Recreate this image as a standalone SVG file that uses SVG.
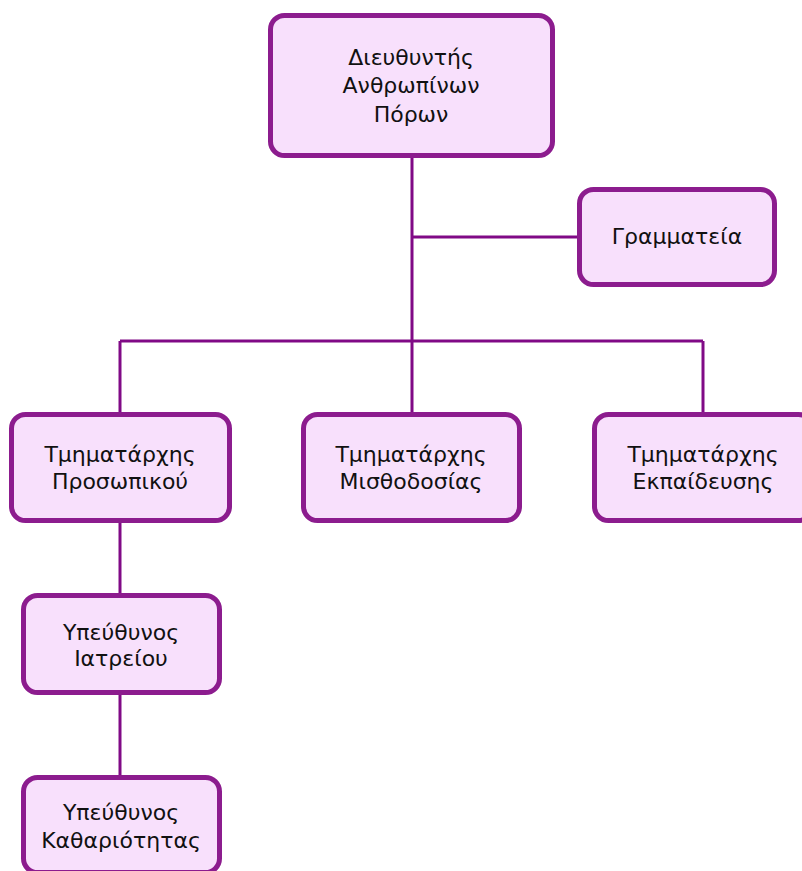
<svg xmlns="http://www.w3.org/2000/svg" width="802" height="871" viewBox="0 0 802 871">
<style>
.box{fill:#f8e0fc;stroke:#8c1c8e;stroke-width:5}
.lbl{font-family:"DejaVu Sans","Verdana",sans-serif;font-size:22px;fill:#111;text-anchor:middle}
.conn{stroke:#800a86;stroke-width:3;fill:none}
</style>
<rect width="802" height="871" fill="#ffffff"/>
<g id="connectors">
<path class="conn" d="M412 157V414"/>
<path class="conn" d="M412 237H579"/>
<path class="conn" d="M120 341H703"/>
<path class="conn" d="M120 341V414"/>
<path class="conn" d="M703 341V414"/>
<path class="conn" d="M120 522V595"/>
<path class="conn" d="M120 694V777"/>
</g>
<g id="director">
<rect class="box" x="270.5" y="15.5" width="282" height="140" rx="14"/>
<text class="lbl" x="411" y="65">Διευθυντής</text>
<text class="lbl" x="411" y="93">Ανθρωπίνων</text>
<text class="lbl" x="411" y="122">Πόρων</text>
</g>
<g id="secretariat">
<rect class="box" x="579.5" y="189.5" width="195" height="95" rx="14"/>
<text class="lbl" x="677" y="244">Γραμματεία</text>
</g>
<g id="personnel">
<rect class="box" x="11.5" y="414.5" width="218" height="106" rx="14"/>
<text class="lbl" x="120" y="462">Τμηματάρχης</text>
<text class="lbl" x="120" y="489">Προσωπικού</text>
</g>
<g id="payroll">
<rect class="box" x="303.5" y="414.5" width="216" height="106" rx="14"/>
<text class="lbl" x="411" y="462">Τμηματάρχης</text>
<text class="lbl" x="411" y="489">Μισθοδοσίας</text>
</g>
<g id="training">
<rect class="box" x="594.5" y="414.5" width="218" height="106" rx="14"/>
<text class="lbl" x="703" y="462">Τμηματάρχης</text>
<text class="lbl" x="703" y="489">Εκπαίδευσης</text>
</g>
<g id="infirmary">
<rect class="box" x="23.5" y="595.5" width="196" height="97" rx="14"/>
<text class="lbl" x="121" y="640">Υπεύθυνος</text>
<text class="lbl" x="121" y="666">Ιατρείου</text>
</g>
<g id="cleaning">
<rect class="box" x="23.5" y="777.5" width="196" height="95" rx="14"/>
<text class="lbl" x="121" y="820">Υπεύθυνος</text>
<text class="lbl" x="121" y="848">Καθαριότητας</text>
</g>
</svg>
